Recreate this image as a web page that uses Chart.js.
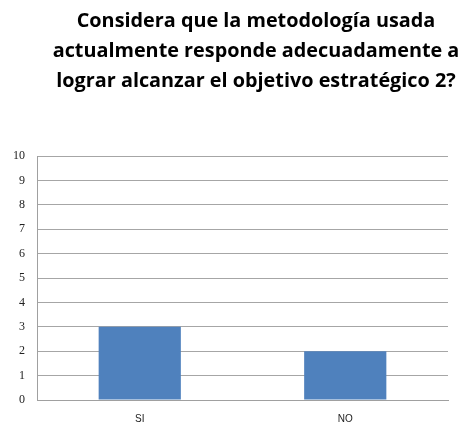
<!DOCTYPE html>
<html><head><meta charset="utf-8">
<script src="https://cdn.jsdelivr.net/npm/chart.js@4"></script>
<style>html,body{margin:0;padding:0;background:#fff}#wrap{width:464px;height:429px}</style>
</head><body><div id="wrap"><canvas id="c" width="464" height="429"></canvas></div>
<script>
const categories = ["SI", "NO"];
const values = [3, 2];
const titleLines = ["Considera que la metodología usada", "actualmente responde adecuadamente a", "lograr alcanzar el objetivo estratégico 2?"];
const yMin = 0, yMax = 10, yStep = 1;

const titlePlugin = {
  id: 'titleText',
  afterDraw(chart) {
    const ctx = chart.ctx;
    ctx.save();
    ctx.fillStyle = '#000';
    ctx.textAlign = 'center';
    ctx.textBaseline = 'middle';
    let size = 21;
    ctx.font = 'bold ' + size + 'px "Open Sans"';
    const w = ctx.measureText(titleLines[1]).width;
    size = size * 407 / w;
    ctx.font = 'bold ' + size + 'px "Open Sans"';
    titleLines.forEach((t, i) => ctx.fillText(t, 256, 21 + i * 30));
    ctx.restore();
  }
};

new Chart(document.getElementById('c'), {
  type: 'bar',
  data: { labels: categories, datasets: [{ data: values, backgroundColor: '#4f81bd', borderWidth: 0, barPercentage: 0.4, categoryPercentage: 1 }] },
  options: {
    responsive: false, animation: false,
    layout: { padding: { top: 156, right: 16, left: 0, bottom: 0 } },
    plugins: { legend: { display: false }, title: { display: false }, tooltip: { enabled: false } },
    scales: {
      x: {
        grid: { display: false, drawTicks: false },
        border: { display: true, color: '#a0a0a0', width: 1 },
        ticks: { color: '#222', font: { family: 'Liberation Sans', size: 10 }, padding: 13 },
        afterFit(s) { s.height = 29; }
      },
      y: {
        min: yMin, max: yMax,
        ticks: { stepSize: yStep, color: '#222', font: { family: 'Liberation Serif', size: 12 }, padding: 12 },
        grid: { color: '#a6a6a6', drawTicks: false },
        border: { display: true, color: '#a0a0a0', width: 1 },
        afterFit(s) { s.width = 37; }
      }
    }
  },
  plugins: [titlePlugin]
});
</script></body></html>
